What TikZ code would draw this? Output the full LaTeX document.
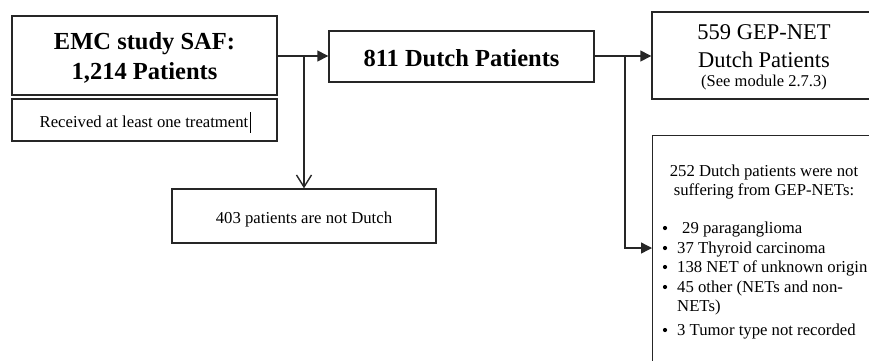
\documentclass[tikz,border=0pt]{standalone}
\usepackage{fontspec}
\setmainfont{Liberation Serif}
\usetikzlibrary{arrows.meta}
\begin{document}
\begin{tikzpicture}[x=1pt,y=-1pt,
  rect/.style={draw=black!85, line width=1.4pt, inner sep=0pt},
  conn/.style={draw=black!85, line width=1.4pt},
  fillarrow/.style={conn, -{Triangle[length=11pt,width=11pt]}},
  openarrow/.style={conn, -{Straight Barb[length=12pt,width=15pt]}},
  txt/.style={inner sep=0pt, anchor=base, text=black},
  ltxt/.style={inner sep=0pt, anchor=base west, text=black},
  bigb/.style={font=\fontsize{24.5}{30}\selectfont\bfseries},
  big/.style={font=\fontsize{22.5}{28}\selectfont},
  small/.style={font=\fontsize{16.7}{19}\selectfont},
  bul/.style={circle, fill=black, inner sep=0pt, minimum size=4.2pt}
]
\useasboundingbox (0,0) rectangle (869,360);
\clip (0,0) rectangle (869,360);

% boxes
\node[rect, minimum width=265pt, minimum height=79pt] (emc) at (144.5,55.5) {};
\node[rect, minimum width=265pt, minimum height=42pt] (recv) at (144.5,120) {};
\node[rect, minimum width=265pt, minimum height=51pt] (dutch) at (461.5,56.5) {};
\node[rect, minimum width=264pt, minimum height=54pt] (notdutch) at (304,216) {};
\node[rect, minimum width=224pt, minimum height=87pt] (gep) at (764,55.5) {};
\node[rect, minimum width=224pt, minimum height=250pt, anchor=north west] (notgep) at (652,135) {};

% texts
\node[txt, bigb] (t1) at (144.5,49) {EMC study SAF:};
\node[txt, bigb] (t2) at (144.5,79) {1,214 Patients};
\node[txt, small] (t3) at (144,127) {Received at least one treatment};
\node[txt, bigb] (t4) at (461.5,66) {811 Dutch Patients};
\node[txt, small] (t5) at (304,223) {403 patients are not Dutch};
\node[txt, big] (t6) at (764,39) {559 GEP-NET};
\node[txt, big] (t7) at (764,67) {Dutch Patients};
\node[txt, font=\fontsize{16.5}{19}\selectfont] (t8) at (764,86) {(See module 2.7.3)};
\node[txt, small] (t9) at (764,176) {252 Dutch patients were not};
\node[txt, small] (t10) at (764,195) {suffering from GEP-NETs:};

\foreach \y/\n in {233/a,253/b,272/c,292/d,335/e}
  \node[bul] (b\n) at (665,\y-5) {};
\node[ltxt, small] (l1) at (682,233) {29 paraganglioma};
\node[ltxt, small] (l2) at (677,253) {37 Thyroid carcinoma};
\node[ltxt, small] (l3) at (677,272) {138 NET of unknown origin};
\node[ltxt, small] (l4) at (677,292) {45 other (NETs and non-};
\node[ltxt, small] (l5) at (677,311) {NETs)};
\node[ltxt, small] (l6) at (677,335) {3 Tumor type not recorded};

% cursor mark
\draw[black, line width=1pt] (250,112) -- (250,133);

% connectors
\coordinate (j1) at (304,56);
\coordinate (j2) at (625,56);
\coordinate (k) at (652,248);
\draw[fillarrow] (emc.east |- j1) -- (dutch.west |- j1);
\draw[openarrow] (j1) -- (notdutch.north);
\draw[fillarrow] (dutch.east |- j2) -- (gep.west |- j2);
\draw[fillarrow] (j2) |- (k);
\end{tikzpicture}
\end{document}
